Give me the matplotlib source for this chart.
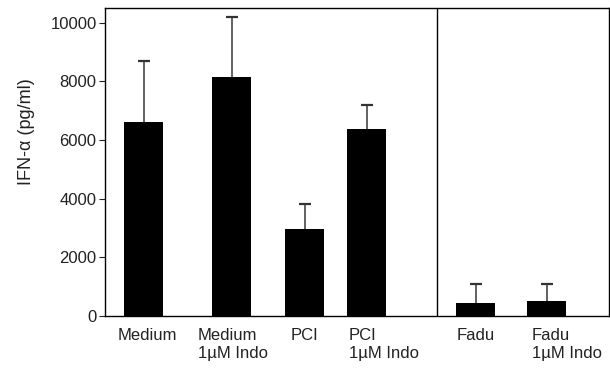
import matplotlib.pyplot as plt

plt.rcParams['font.family'] = ['Liberation Sans', 'DejaVu Sans']

labels = ['Medium', 'Medium\n1\u00b5M Indo', 'PCI', 'PCI\n1\u00b5M Indo', 'Fadu', 'Fadu\n1\u00b5M Indo']
values = [6600, 8150, 2960, 6380, 450, 500]
errors = [2080, 2030, 850, 800, 640, 590]

# layout: bar centres and label anchors in axis units (pixels from left edge)
pos = [39, 127, 200, 262, 371, 442]
label_x = [13, 93, 186, 244, 352, 427]
divider = 332

fig = plt.figure(figsize=(6.1, 3.69), dpi=100)
ax = fig.add_axes([0.172, 0.1436, 0.826, 0.835])

ax.bar(pos, values, width=39, color='black', zorder=2)
# upper error bars only
tops = [v + e for v, e in zip(values, errors)]
ax.vlines(pos, values, tops, color='#555555', linewidth=1.3, zorder=1)
ax.plot(pos, tops, linestyle='none', marker='_', markersize=8,
        markeredgewidth=1.6, color='#333333', zorder=1)
ax.axvline(divider, color='black', linewidth=1.0)

ax.set_xlim(0, 504)
ax.set_ylim(0, 10500)
ax.set_yticks([0, 2000, 4000, 6000, 8000, 10000])
ax.tick_params(axis='y', labelsize=12, length=4, pad=2, colors='#222222')
ax.set_xticks([])
for s in ax.spines.values():
    s.set_color('black')
    s.set_linewidth(1.0)

for x, lab in zip(label_x, labels):
    ax.text(x, -420, lab, ha='left', va='top', fontsize=12, color='#222222',
            linespacing=1.2)

ax.set_ylabel('IFN-\u03b1 (pg/ml)', fontsize=13, color='#222222')
ax.yaxis.set_label_coords(-0.138, 0.6)

fig.savefig('out.png', dpi=100)
